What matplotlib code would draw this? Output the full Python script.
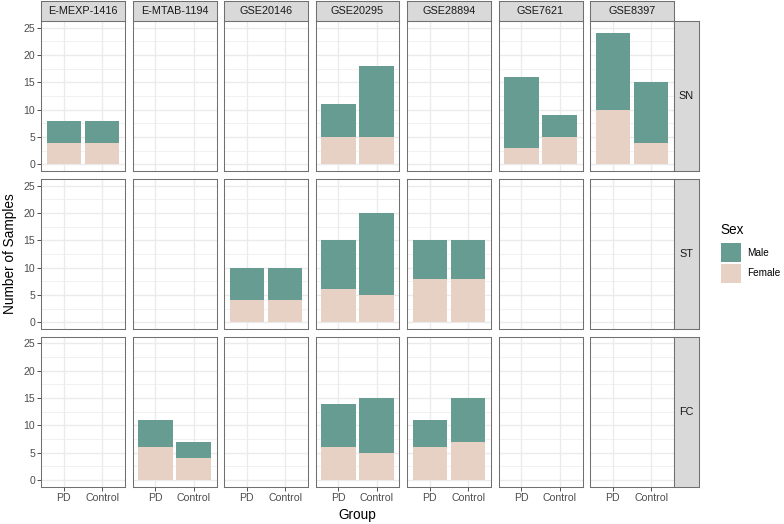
import matplotlib
matplotlib.use("Agg")
import matplotlib.pyplot as plt
from matplotlib.patches import Rectangle
import numpy as np

plt.rcParams['font.family'] = ['Liberation Sans', 'DejaVu Sans']

datasets = ["E-MEXP-1416", "E-MTAB-1194", "GSE20146", "GSE20295", "GSE28894", "GSE7621", "GSE8397"]
regions = ["SN", "ST", "FC"]
groups = ["PD", "Control"]

# (region, dataset) -> [PD, Control] counts
female = {
    ("SN", "E-MEXP-1416"): [4, 4],
    ("SN", "GSE20295"): [5, 5],
    ("SN", "GSE7621"): [3, 5],
    ("SN", "GSE8397"): [10, 4],
    ("ST", "GSE20146"): [4, 4],
    ("ST", "GSE20295"): [6, 5],
    ("ST", "GSE28894"): [8, 8],
    ("FC", "E-MTAB-1194"): [6, 4],
    ("FC", "GSE20295"): [6, 5],
    ("FC", "GSE28894"): [6, 7],
}
male = {
    ("SN", "E-MEXP-1416"): [4, 4],
    ("SN", "GSE20295"): [6, 13],
    ("SN", "GSE7621"): [13, 4],
    ("SN", "GSE8397"): [14, 11],
    ("ST", "GSE20146"): [6, 6],
    ("ST", "GSE20295"): [9, 15],
    ("ST", "GSE28894"): [7, 7],
    ("FC", "E-MTAB-1194"): [5, 3],
    ("FC", "GSE20295"): [8, 10],
    ("FC", "GSE28894"): [5, 8],
}

yticks = [0, 5, 10, 15, 20, 25]
male_color = "#679C92"
female_color = "#E6D1C4"

W, H = 784, 524
fig = plt.figure(figsize=(W / 100, H / 100), dpi=100)

def fr(x0, y0, x1, y1):
    return [x0 / W, 1 - y1 / H, (x1 - x0) / W, (y1 - y0) / H]

left0, pw, gap = 41.0, 84.0, 7.5
top0, ph, vgap = 21.0, 150.3, 7.5
strip_h = 20.5
rstrip_w = 24.5

tick_color = "#4D4D4D"
border_color = "#707070"
blw = 0.75

for r, reg in enumerate(regions):
    y0 = top0 + r * (ph + vgap)
    y1 = y0 + ph
    for c, ds in enumerate(datasets):
        x0 = left0 + c * (pw + gap)
        x1 = x0 + pw
        ax = fig.add_axes(fr(x0, y0, x1, y1))
        ax.set_xlim(0.4, 2.6)
        ax.set_ylim(-1.25, 26.25)
        ax.set_facecolor("white")
        for yv in np.arange(2.5, 26, 5):
            ax.axhline(yv, color="#EBEBEB", lw=0.5, zorder=0)
        for yv in yticks:
            ax.axhline(yv, color="#EBEBEB", lw=1.0, zorder=0)
        for xv in [1, 2]:
            ax.axvline(xv, color="#EBEBEB", lw=1.0, zorder=0)
        key = (reg, ds)
        if key in female:
            xs = np.arange(1, len(groups) + 1)
            f = np.array(female[key])
            m = np.array(male[key])
            ax.bar(xs, f, width=0.9, color=female_color, zorder=2, linewidth=0)
            ax.bar(xs, m, bottom=f, width=0.9, color=male_color, zorder=2, linewidth=0)
        for s in ax.spines.values():
            s.set_color(border_color)
            s.set_linewidth(blw)
            s.set_zorder(5)
        ax.set_yticks(yticks)
        ax.set_xticks([1, 2])
        if c == 0:
            ax.set_yticklabels([str(v) for v in yticks], fontsize=7.6, color=tick_color)
            ax.tick_params(axis="y", length=2.8, width=0.6, color="#333333", pad=1.5)
        else:
            ax.set_yticklabels([])
            ax.tick_params(axis="y", length=0)
        if r == len(regions) - 1:
            ax.set_xticklabels(groups, fontsize=7.6, color=tick_color)
            ax.tick_params(axis="x", length=2.8, width=0.6, color="#333333", pad=1.5)
        else:
            ax.set_xticklabels([])
            ax.tick_params(axis="x", length=0)
        if r == 0:
            sax = fig.add_axes(fr(x0, top0 - strip_h, x1, top0))
            sax.set_xticks([]); sax.set_yticks([])
            sax.set_facecolor("#D9D9D9")
            for s in sax.spines.values():
                s.set_color(border_color); s.set_linewidth(blw)
            sax.text(0.5, 0.5, ds, ha="center", va="center", fontsize=7.8, color="#1A1A1A",
                     transform=sax.transAxes)
    xr0 = left0 + 7 * pw + 6 * gap
    sax = fig.add_axes(fr(xr0, y0, xr0 + rstrip_w, y1))
    sax.set_xticks([]); sax.set_yticks([])
    sax.set_facecolor("#D9D9D9")
    for s in sax.spines.values():
        s.set_color(border_color); s.set_linewidth(blw)
    sax.text(0.5, 0.5, reg, ha="center", va="center", fontsize=7.8, color="#1A1A1A",
             transform=sax.transAxes)

fig.text(10 / W, 1 - 254 / H, "Number of Samples", rotation=90, ha="center", va="center",
         fontsize=9.8, color="black")
fig.text(357.5 / W, 1 - 515 / H, "Group", ha="center", va="center", fontsize=9.8, color="black")

fig.text(720 / W, 1 - 230 / H, "Sex", ha="left", va="center", fontsize=9.8, color="black")
for i, (lab, col) in enumerate([("Male", male_color), ("Female", female_color)]):
    ky0 = 243 + i * 21
    fig.patches.append(Rectangle((721 / W, 1 - (ky0 + 19) / H), 20 / W, 19 / H,
                                 transform=fig.transFigure, facecolor=col, edgecolor="none"))
    fig.text(747 / W, 1 - (ky0 + 9.5) / H, lab, ha="left", va="center", fontsize=7.2, color="black")

fig.savefig("out.png", dpi=100)
